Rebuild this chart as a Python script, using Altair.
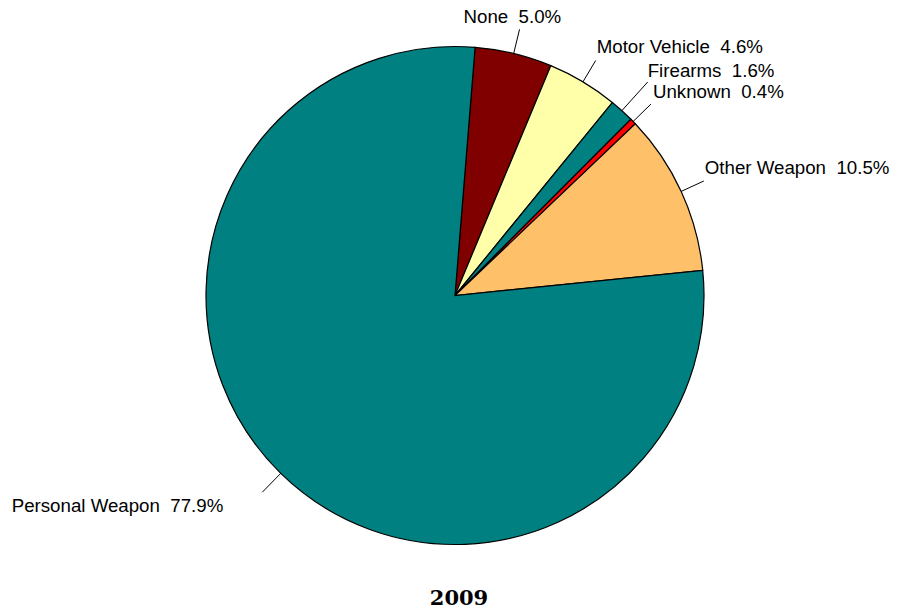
import math
import altair as alt
import pandas as pd

# ---- data ----
categories = ["None", "Motor Vehicle", "Firearms", "Unknown", "Other Weapon", "Personal Weapon"]
percents = [5.0, 4.6, 1.6, 0.4, 10.5, 77.9]
colors = ["#800000", "#FFFFAA", "#008080", "#FF0000", "#FFC06A", "#008080"]
title_text = "2009"

# ---- layout (positions / styles, kept apart from the data) ----
W, H = 890, 565
CX, CY, R = 447, 276.5, 249
START = 0.0808  # rad, clockwise from 12 o'clock
FONT_SIZE = 18.7
leader_len = [1.1, 1.1, 1.155, 1.1, 1.1, 1.106]
label_dx = [-56, 1, 0, 2, 1, -39]
label_dy = [-6, -7, -5, -6, -7, 20]
label_side = ["left", "left", "left", "left", "left", "right"]

df = pd.DataFrame({
    "category": categories,
    "value": percents,
    "order": list(range(len(categories))),
    "label": [f"{c}\u00a0 {p:.1f}%" for c, p in zip(categories, percents)],
    "k": leader_len,
    "ldx": label_dx,
    "ldy": label_dy,
    "side": label_side,
})

xs = alt.Scale(domain=[0, W], range=[0, W])
ys = alt.Scale(domain=[H, 0])

pie = alt.Chart(df).mark_arc(radius=R, stroke="black", strokeWidth=1.2).encode(
    theta=alt.Theta("value:Q", stack=True,
                    scale=alt.Scale(range=[START, START + 2 * math.pi])),
    color=alt.Color("category:N", scale=alt.Scale(domain=categories, range=colors), legend=None),
    order=alt.Order("order:Q"),
    x=alt.value(CX),
    y=alt.value(CY),
)

base = alt.Chart(df).transform_window(
    cum="sum(value)", sort=[alt.SortField("order")], frame=[None, 0]
).transform_joinaggregate(
    total="sum(value)"
).transform_calculate(
    ang=f"{START} + 2*PI*(datum.cum - datum.value/2)/datum.total"
).transform_calculate(
    x1=f"{CX} + {R}*sin(datum.ang)",
    y1=f"{CY} - {R}*cos(datum.ang)",
    x2=f"{CX} + {R}*datum.k*sin(datum.ang)",
    y2=f"{CY} - {R}*datum.k*cos(datum.ang)",
).transform_calculate(
    tx="datum.x2 + datum.ldx",
    ty="datum.y2 + datum.ldy",
)

leaders = base.mark_rule(color="black", strokeWidth=1).encode(
    x=alt.X("x1:Q", scale=xs, axis=None),
    y=alt.Y("y1:Q", scale=ys, axis=None),
    x2="x2:Q",
    y2="y2:Q",
)

labels_left = base.transform_filter("datum.side == 'left'").mark_text(
    align="left", baseline="alphabetic", font="Liberation Sans", fontSize=FONT_SIZE, color="black"
).encode(
    x=alt.X("tx:Q", scale=xs, axis=None),
    y=alt.Y("ty:Q", scale=ys, axis=None),
    text="label:N",
)

labels_right = base.transform_filter("datum.side == 'right'").mark_text(
    align="right", baseline="alphabetic", font="Liberation Sans", fontSize=FONT_SIZE, color="black"
).encode(
    x=alt.X("tx:Q", scale=xs, axis=None),
    y=alt.Y("ty:Q", scale=ys, axis=None),
    text="label:N",
)

chart = alt.layer(pie, leaders, labels_left, labels_right).properties(
    width=W,
    height=H,
    padding=0,
    title=alt.TitleParams(
        title_text, orient="bottom", anchor="middle", font="DejaVu Serif",
        fontSize=21, fontWeight="bold", color="black", offset=4, dx=6,
    ),
).configure_view(stroke=None)

chart.save("out.html", embed_options={"renderer": "svg", "actions": False})
